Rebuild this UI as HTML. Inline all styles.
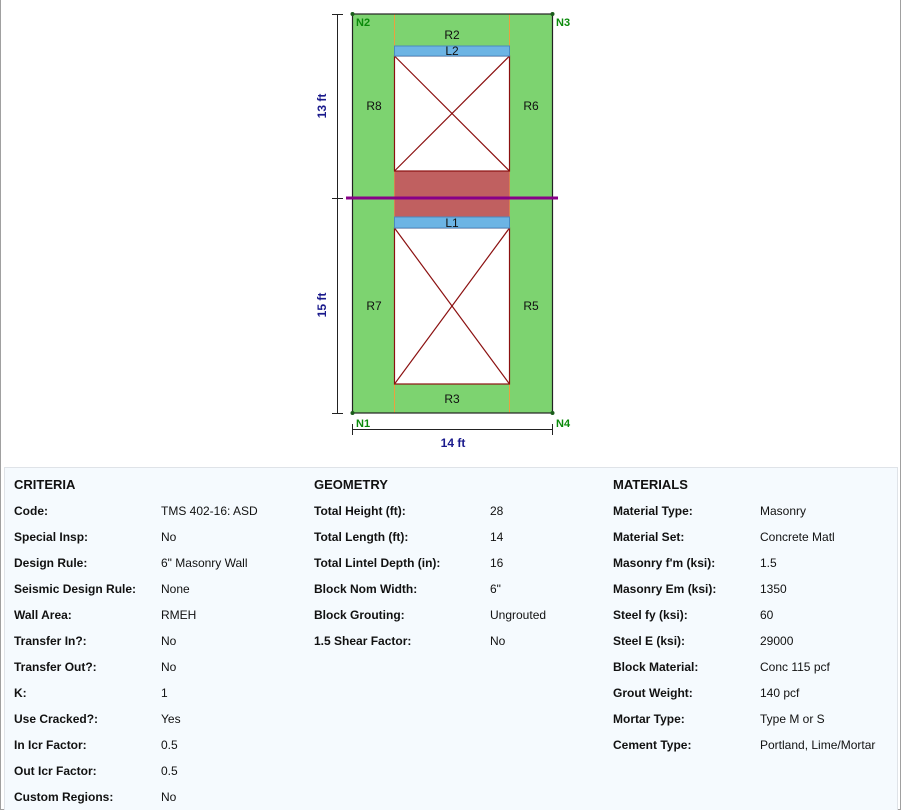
<!DOCTYPE html>
<html><head><meta charset="utf-8"><style>
body{margin:0;width:902px;height:812px;background:#fff;font-family:"Liberation Sans",sans-serif;position:relative;overflow:hidden}
#frame{position:absolute;left:0;top:0;width:899px;height:809px;border:1px solid #a0a0a0;border-top:none}
#panel{position:absolute;left:4px;top:467px;width:892px;height:342px;background:#f5fafe;border:1px solid #dfe3e8;border-bottom:none}
.t{position:absolute;font-size:12px;color:#111;white-space:nowrap;margin-top:1px}
.b{font-weight:bold}
.h{font-weight:bold;font-size:13px}
</style></head><body>
<div id="frame"></div>
<svg width="902" height="470" style="position:absolute;left:0;top:0" font-family="Liberation Sans, sans-serif">
<rect x="352" y="14" width="201" height="399" fill="#7dd370"/>
<line x1="394.5" y1="14" x2="394.5" y2="413" stroke="#e8a040" stroke-width="1"/>
<line x1="509.5" y1="14" x2="509.5" y2="413" stroke="#e8a040" stroke-width="1"/>
<rect x="394.5" y="171" width="115" height="46" fill="#c06060"/>
<rect x="394.5" y="56" width="115" height="115" fill="#fff" stroke="#8b1010" stroke-width="1.2"/>
<line x1="394.5" y1="56" x2="509.5" y2="171" stroke="#8b1010" stroke-width="1.2"/>
<line x1="509.5" y1="56" x2="394.5" y2="171" stroke="#8b1010" stroke-width="1.2"/>
<rect x="394.5" y="228" width="115" height="156" fill="#fff" stroke="#8b1010" stroke-width="1.2"/>
<line x1="394.5" y1="228" x2="509.5" y2="384" stroke="#8b1010" stroke-width="1.2"/>
<line x1="509.5" y1="228" x2="394.5" y2="384" stroke="#8b1010" stroke-width="1.2"/>
<rect x="394.5" y="46" width="115" height="10" fill="#6cb4e4" stroke="#4a8ac0" stroke-width="1"/>
<rect x="394.5" y="217" width="115" height="11" fill="#6cb4e4" stroke="#4a8ac0" stroke-width="1"/>
<rect x="352.5" y="14" width="200" height="399" fill="none" stroke="#222" stroke-width="1.2"/>
<line x1="346" y1="198" x2="558" y2="198" stroke="#880088" stroke-width="3"/>
<g fill="#1a5c1a"><circle cx="352.5" cy="14" r="2"/><circle cx="552.5" cy="14" r="2"/><circle cx="352.5" cy="413" r="2"/><circle cx="552.5" cy="413" r="2"/></g>
<g font-size="12" fill="#111" text-anchor="middle">
<text x="452" y="39">R2</text><text x="452" y="55">L2</text>
<text x="374" y="110">R8</text><text x="531" y="110">R6</text>
<text x="452" y="227">L1</text>
<text x="374" y="310">R7</text><text x="531" y="310">R5</text>
<text x="452" y="403">R3</text></g>
<g font-size="11" font-weight="bold" fill="#0a8a0a">
<text x="356" y="26">N2</text><text x="556" y="26">N3</text>
<text x="356" y="427">N1</text><text x="556" y="427">N4</text></g>
<g stroke="#222" stroke-width="1">
<line x1="337.5" y1="14" x2="337.5" y2="413"/>
<line x1="332" y1="14.5" x2="343" y2="14.5"/><line x1="332" y1="198.5" x2="343" y2="198.5"/><line x1="332" y1="413.5" x2="343" y2="413.5"/>
<line x1="352.5" y1="429.5" x2="552.5" y2="429.5"/>
<line x1="352.5" y1="424" x2="352.5" y2="435"/><line x1="552.5" y1="424" x2="552.5" y2="435"/></g>
<g font-size="12" font-weight="bold" fill="#1a1a8c" text-anchor="middle">
<text x="453" y="447">14 ft</text>
<text transform="translate(326,106) rotate(-90)">13 ft</text>
<text transform="translate(326,305) rotate(-90)">15 ft</text></g>
</svg>
<div id="panel"></div>
<div class="t h" style="left:14px;top:476px">CRITERIA</div>
<div class="t h" style="left:314px;top:476px">GEOMETRY</div>
<div class="t h" style="left:613px;top:476px">MATERIALS</div>
<div class="t b" style="left:14px;top:503px">Code:</div><div class="t" style="left:161px;top:503px">TMS 402-16: ASD</div>
<div class="t b" style="left:14px;top:529px">Special Insp:</div><div class="t" style="left:161px;top:529px">No</div>
<div class="t b" style="left:14px;top:555px">Design Rule:</div><div class="t" style="left:161px;top:555px">6" Masonry Wall</div>
<div class="t b" style="left:14px;top:581px">Seismic Design Rule:</div><div class="t" style="left:161px;top:581px">None</div>
<div class="t b" style="left:14px;top:607px">Wall Area:</div><div class="t" style="left:161px;top:607px">RMEH</div>
<div class="t b" style="left:14px;top:633px">Transfer In?:</div><div class="t" style="left:161px;top:633px">No</div>
<div class="t b" style="left:14px;top:659px">Transfer Out?:</div><div class="t" style="left:161px;top:659px">No</div>
<div class="t b" style="left:14px;top:685px">K:</div><div class="t" style="left:161px;top:685px">1</div>
<div class="t b" style="left:14px;top:711px">Use Cracked?:</div><div class="t" style="left:161px;top:711px">Yes</div>
<div class="t b" style="left:14px;top:737px">In Icr Factor:</div><div class="t" style="left:161px;top:737px">0.5</div>
<div class="t b" style="left:14px;top:763px">Out Icr Factor:</div><div class="t" style="left:161px;top:763px">0.5</div>
<div class="t b" style="left:14px;top:789px">Custom Regions:</div><div class="t" style="left:161px;top:789px">No</div>
<div class="t b" style="left:314px;top:503px">Total Height (ft):</div><div class="t" style="left:490px;top:503px">28</div>
<div class="t b" style="left:314px;top:529px">Total Length (ft):</div><div class="t" style="left:490px;top:529px">14</div>
<div class="t b" style="left:314px;top:555px">Total Lintel Depth (in):</div><div class="t" style="left:490px;top:555px">16</div>
<div class="t b" style="left:314px;top:581px">Block Nom Width:</div><div class="t" style="left:490px;top:581px">6"</div>
<div class="t b" style="left:314px;top:607px">Block Grouting:</div><div class="t" style="left:490px;top:607px">Ungrouted</div>
<div class="t b" style="left:314px;top:633px">1.5 Shear Factor:</div><div class="t" style="left:490px;top:633px">No</div>
<div class="t b" style="left:613px;top:503px">Material Type:</div><div class="t" style="left:760px;top:503px">Masonry</div>
<div class="t b" style="left:613px;top:529px">Material Set:</div><div class="t" style="left:760px;top:529px">Concrete Matl</div>
<div class="t b" style="left:613px;top:555px">Masonry f'm (ksi):</div><div class="t" style="left:760px;top:555px">1.5</div>
<div class="t b" style="left:613px;top:581px">Masonry Em (ksi):</div><div class="t" style="left:760px;top:581px">1350</div>
<div class="t b" style="left:613px;top:607px">Steel fy (ksi):</div><div class="t" style="left:760px;top:607px">60</div>
<div class="t b" style="left:613px;top:633px">Steel E (ksi):</div><div class="t" style="left:760px;top:633px">29000</div>
<div class="t b" style="left:613px;top:659px">Block Material:</div><div class="t" style="left:760px;top:659px">Conc 115 pcf</div>
<div class="t b" style="left:613px;top:685px">Grout Weight:</div><div class="t" style="left:760px;top:685px">140 pcf</div>
<div class="t b" style="left:613px;top:711px">Mortar Type:</div><div class="t" style="left:760px;top:711px">Type M or S</div>
<div class="t b" style="left:613px;top:737px">Cement Type:</div><div class="t" style="left:760px;top:737px">Portland, Lime/Mortar</div>
</body></html>
